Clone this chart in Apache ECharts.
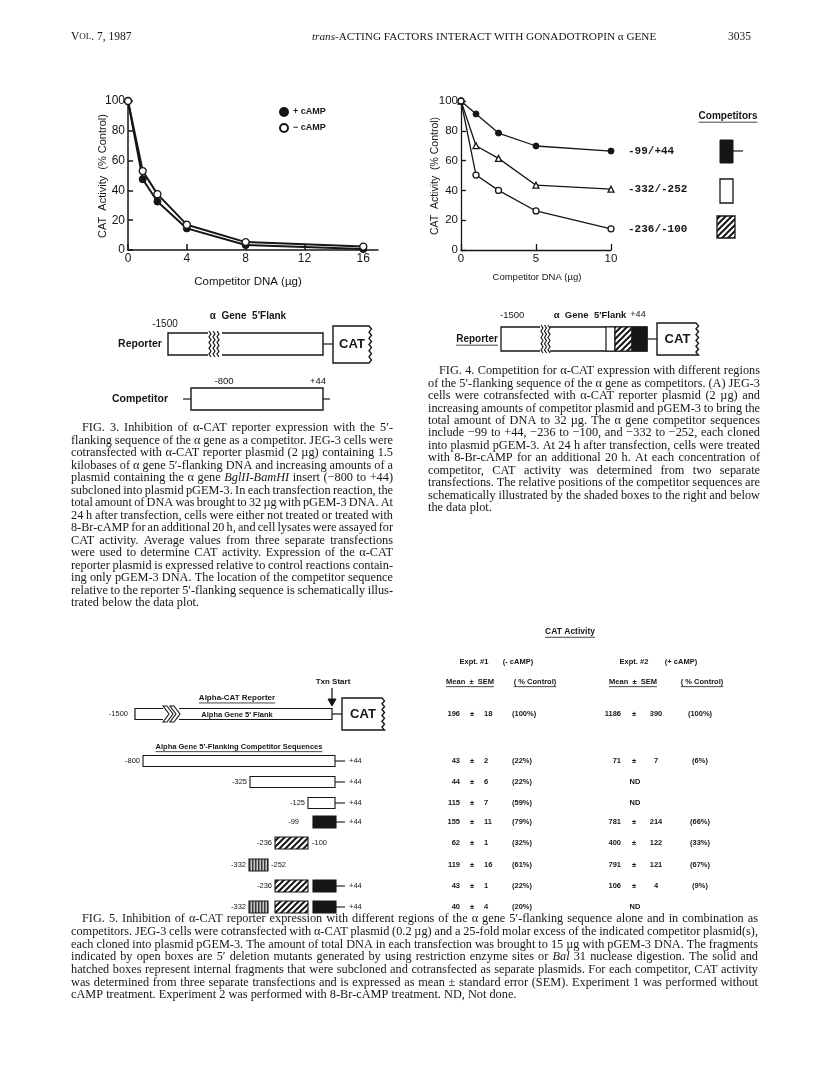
<!DOCTYPE html>
<html>
<head>
<meta charset="utf-8">
<script src="https://cdn.jsdelivr.net/npm/echarts@6.0.0/dist/echarts.min.js"></script>
<style>
  html, body { margin: 0; padding: 0; background: #fff; }
  #chart-container { width: 816px; height: 1081px; }
</style>
</head>
<body>
<div id="chart-container"></div>
<script>
// ---- data ----
// Fig. 3: competitor DNA (ug) vs CAT activity (% control)
var fig3Dna = [0, 1, 2, 4, 8, 16];
var fig3PlusCamp = [100, 47.5, 32.5, 14.5, 3.3, 0.6];
var fig3MinusCamp = [100, 53, 37.5, 17, 5.3, 2.3];
var fig3XTicks = [0, 4, 8, 12, 16];

// Fig. 4: three competitors
var fig4Dna = [0, 1, 2.5, 5, 10];
var fig4Names = ["-99/+44", "-332/-252", "-236/-100"];
var fig4Comp99 = [100, 91.3, 78.5, 69.8, 66.4];
var fig4Comp332 = [100, 70, 61.5, 43.5, 40.8];
var fig4Comp236 = [100, 50.3, 40, 26.2, 14.2];
var fig4XTicks = [0, 5, 10];

// Fig. 5 table (ND = not done)
var exp1Mean = ["196", "43", "44", "115", "155", "62", "119", "43", "40"];
var exp1Sem = ["18", "2", "6", "7", "11", "1", "16", "1", "4"];
var exp1Pct = ["(100%)", "(22%)", "(22%)", "(59%)", "(79%)", "(32%)", "(61%)", "(22%)", "(20%)"];
var exp2Mean = ["1186", "71", "ND", "ND", "781", "400", "791", "106", "ND"];
var exp2Sem = ["390", "7", "", "", "214", "122", "121", "4", ""];
var exp2Pct = ["(100%)", "(6%)", "", "", "(66%)", "(33%)", "(67%)", "(9%)", ""];

// captions; _word_ is set in italics
var fig3Caption = [
  "FIG. 3. Inhibition of \u03b1-CAT reporter expression with the 5\u2032-",
  "flanking sequence of the \u03b1 gene as a competitor. JEG-3 cells were",
  "cotransfected with \u03b1-CAT reporter plasmid (2 \u00b5g) containing 1.5",
  "kilobases of \u03b1 gene 5\u2032-flanking DNA and increasing amounts of a",
  "plasmid containing the \u03b1 gene _BglII-BamHI_ insert (\u2212800 to +44)",
  "subcloned into plasmid pGEM-3. In each transfection reaction, the",
  "total amount of DNA was brought to 32 \u00b5g with pGEM-3 DNA. At",
  "24 h after transfection, cells were either not treated or treated with",
  "8-Br-cAMP for an additional 20 h, and cell lysates were assayed for",
  "CAT activity. Average values from three separate transfections",
  "were used to determine CAT activity. Expression of the \u03b1-CAT",
  "reporter plasmid is expressed relative to control reactions contain-",
  "ing only pGEM-3 DNA. The location of the competitor sequence",
  "relative to the reporter 5\u2032-flanking sequence is schematically illus-",
  "trated below the data plot."
];
var fig4Caption = [
  "FIG. 4. Competition for \u03b1-CAT expression with different regions",
  "of the 5\u2032-flanking sequence of the \u03b1 gene as competitors. (A) JEG-3",
  "cells were cotransfected with \u03b1-CAT reporter plasmid (2 \u00b5g) and",
  "increasing amounts of competitor plasmid and pGEM-3 to bring the",
  "total amount of DNA to 32 \u00b5g. The \u03b1 gene competitor sequences",
  "include \u221299 to +44, \u2212236 to \u2212100, and \u2212332 to \u2212252, each cloned",
  "into plasmid pGEM-3. At 24 h after transfection, cells were treated",
  "with 8-Br-cAMP for an additional 20 h. At each concentration of",
  "competitor, CAT activity was determined from two separate",
  "transfections. The relative positions of the competitor sequences are",
  "schematically illustrated by the shaded boxes to the right and below",
  "the data plot."
];
var fig5Caption = [
  "FIG. 5. Inhibition of \u03b1-CAT reporter expression with different regions of the \u03b1 gene 5\u2032-flanking sequence alone and in combination as",
  "competitors. JEG-3 cells were cotransfected with \u03b1-CAT plasmid (0.2 \u00b5g) and a 25-fold molar excess of the indicated competitor plasmid(s),",
  "each cloned into plasmid pGEM-3. The amount of total DNA in each transfection was brought to 15 \u00b5g with pGEM-3 DNA. The fragments",
  "indicated by open boxes are 5\u2032 deletion mutants generated by using restriction enzyme sites or _Bal_ 31 nuclease digestion. The solid and",
  "hatched boxes represent internal fragments that were subcloned and cotransfected as separate plasmids. For each competitor, CAT activity",
  "was determined from three separate transfections and is expressed as mean \u00b1 standard error (SEM). Experiment 1 was performed without",
  "cAMP treatment. Experiment 2 was performed with 8-Br-cAMP treatment. ND, Not done."
];

var INK = "#161616";
var SANS = '"Liberation Sans", Arial, sans-serif';
var SERIF = '"Liberation Serif", "Times New Roman", serif';

var measureCtx = document.createElement("canvas").getContext("2d");
function measure(str, font) {
  measureCtx.font = font;
  return measureCtx.measureText(str).width;
}

function makePattern(kind) {
  var c = document.createElement("canvas");
  var g = c.getContext("2d");
  if (kind === "hatch") {
    c.width = 6; c.height = 6;
    g.fillStyle = "#fff"; g.fillRect(0, 0, 6, 6);
    g.strokeStyle = INK; g.lineWidth = 2;
    g.beginPath();
    g.moveTo(0, 6); g.lineTo(6, 0);
    g.moveTo(-3, 3); g.lineTo(3, -3);
    g.moveTo(3, 9); g.lineTo(9, 3);
    g.stroke();
  } else {
    c.width = 3; c.height = 3;
    g.fillStyle = "#c8c8c8"; g.fillRect(0, 0, 3, 3);
    g.fillStyle = "#3a3a3a"; g.fillRect(0, 0, 1.5, 3);
  }
  return { image: c, repeat: "repeat" };
}
var HATCH = makePattern("hatch");
var STRIPE = makePattern("stripe");

var G = [];
function txt(x, y, s, o) {
  o = o || {};
  G.push({
    type: "text", x: x, y: y, scaleX: o.sx || 1, rotation: o.rot || 0,
    style: {
      text: s, fill: o.color || INK, fontSize: o.size || 8,
      fontFamily: o.family || SANS, fontWeight: o.weight || "normal",
      fontStyle: o.italic ? "italic" : "normal",
      textAlign: o.align || "left", textVerticalAlign: "middle",
      rich: o.rich
    }
  });
}
function seg(x1, y1, x2, y2, w) {
  G.push({ type: "line", shape: { x1: x1, y1: y1, x2: x2, y2: y2 }, style: { stroke: INK, lineWidth: w || 1 } });
}
function box(x, y, w, h, fill, lw) {
  G.push({ type: "rect", shape: { x: x, y: y, width: w, height: h }, style: { fill: fill, stroke: INK, lineWidth: lw || 1 } });
}
function poly(points, fill, lw) {
  G.push({ type: "polygon", shape: { points: points }, style: { fill: fill, stroke: INK, lineWidth: lw || 1 } });
}
function pline(points, lw) {
  G.push({ type: "polyline", shape: { points: points }, style: { fill: null, stroke: INK, lineWidth: lw || 1 } });
}
function underlined(cx, y, s, size, weight) {
  var font = (weight || "bold") + " " + size + "px " + SANS;
  var w = measure(s, font);
  txt(cx, y, s, { size: size, weight: weight || "bold", align: "center" });
  seg(cx - w / 2, y + size * 0.62, cx + w / 2, y + size * 0.62, 0.8);
}
function zigzag(x, y0, y1, amp, step) {
  var pts = [];
  var n = Math.round((y1 - y0) / step);
  for (var i = 0; i <= n; i++) pts.push([x + (i % 2 ? amp : 0), y0 + (y1 - y0) * i / n]);
  return pts;
}
function catBox(x0, y0, x1, y1, fontSize) {
  var pts = [[x0, y0], [x1, y0]].concat(zigzag(x1, y0, y1, 2.5, 3)).concat([[x0, y1]]);
  poly(pts, "#fff", 1.4);
  txt((x0 + x1) / 2 + 1, (y0 + y1) / 2, "CAT", { size: fontSize, weight: "bold", align: "center" });
}
// justified paragraph: words are placed one by one with stretched gaps
function paragraph(lines, x0, y0, width, dy, indent, size) {
  var upright = size + "px " + SERIF;
  var slanted = "italic " + size + "px " + SERIF;
  var space = measure(" ", upright);
  var minGap = space * 0.7;
  lines.forEach(function (line, i) {
    var words = line.split(" ").map(function (w) {
      var it = /^_.*_$/.test(w);
      var t = it ? w.slice(1, -1) : w;
      return { t: t, it: it, w: measure(t, it ? slanted : upright) };
    });
    var left = x0 + (i === 0 ? indent : 0);
    var avail = width - (i === 0 ? indent : 0);
    var sum = words.reduce(function (a, w) { return a + w.w; }, 0);
    var last = i === lines.length - 1;
    var gap = last ? space : (avail - sum) / Math.max(1, words.length - 1);
    var sx = 1;
    if (gap < minGap) { sx = avail / (sum + minGap * (words.length - 1)); gap = minGap * sx; }
    var x = left;
    words.forEach(function (w) {
      txt(x, y0 + i * dy, w.t, { size: size, family: SERIF, italic: w.it, sx: sx });
      x += w.w * sx + gap;
    });
  });
}

// ---- page header ----
txt(71, 37, "V{s|OL}. 7, 1987", { size: 11.5, family: SERIF, rich: { s: { fontSize: 9, fontFamily: SERIF, fill: INK } } });
(function () {
  var s = "trans-ACTING FACTORS INTERACT WITH GONADOTROPIN \u03b1 GENE";
  var sx = 343 / measure(s, "11px " + SERIF);
  txt(312, 37, "{i|trans}-ACTING FACTORS INTERACT WITH GONADOTROPIN \u03b1 GENE", {
    size: 11, family: SERIF, sx: sx,
    rich: { i: { fontStyle: "italic", fontSize: 11, fontFamily: SERIF, fill: INK } }
  });
})();
txt(728, 37, "3035", { size: 11.5, family: SERIF });

// ---- Fig. 3 axis titles ----
txt(103, 176, "CAT  Activity  (% Control)", { size: 11, rot: Math.PI / 2, align: "center" });
txt(248, 282, "Competitor DNA (\u00b5g)", { size: 11.5, align: "center" });

// ---- Fig. 3 schematic ----
txt(165, 324, "-1500", { size: 10, align: "center" });
txt(248, 316, "\u03b1  Gene  5\u2032Flank", { size: 10, weight: "bold", align: "center" });
txt(140, 344, "Reporter", { size: 10.5, weight: "bold", align: "center" });
box(168, 333, 155, 22, "#fff", 1.4);
G.push({ type: "rect", shape: { x: 208, y: 330, width: 14, height: 28 }, style: { fill: "#fff", stroke: null } });
pline(zigzag(209, 331, 357, 2, 3), 1.2);
pline(zigzag(213, 331, 357, 2, 3), 1.2);
pline(zigzag(217, 331, 357, 2, 3), 1.2);
seg(323, 344, 333, 344, 1.2);
catBox(333, 326, 369, 363, 13);
txt(224, 381, "-800", { size: 9.5, align: "center" });
txt(318, 381, "+44", { size: 9.5, align: "center" });
txt(140, 399, "Competitor", { size: 10.5, weight: "bold", align: "center" });
seg(183, 399, 191, 399, 1.2);
box(191, 388, 132, 22, "#fff", 1.4);
seg(323, 399, 330, 399, 1.2);

paragraph(fig3Caption, 71, 428, 322, 12.5, 11, 12.3);

// ---- Fig. 4 axis titles and competitor key ----
txt(435, 176, "CAT  Activity  (% Control)", { size: 10.5, rot: Math.PI / 2, align: "center" });
txt(537, 277, "Competitor DNA (\u00b5g)", { size: 9.5, align: "center" });
underlined(728, 116, "Competitors", 10);
box(720, 140, 13, 23, INK, 1);
seg(733, 151, 743, 151, 1.2);
box(720, 179, 13, 24, "#fff", 1.3);
box(717, 216, 18, 22, HATCH, 1.3);

// ---- Fig. 4 schematic ----
txt(500, 315, "-1500", { size: 9.5 });
txt(590, 315, "\u03b1  Gene  5\u2032Flank", { size: 9.5, weight: "bold", align: "center" });
txt(638, 315, "+44", { size: 9, align: "center" });
underlined(477, 339, "Reporter", 10);
box(501, 327, 146, 24, "#fff", 1.3);
G.push({ type: "rect", shape: { x: 540, y: 324, width: 10, height: 30 }, style: { fill: "#fff", stroke: null } });
pline(zigzag(541, 325, 353, 2, 3), 1.1);
pline(zigzag(544.5, 325, 353, 2, 3), 1.1);
pline(zigzag(548, 325, 353, 2, 3), 1.1);
box(606, 327, 9, 24, "#fff", 1.2);
box(615, 327, 17, 24, HATCH, 1.2);
box(632, 327, 15, 24, INK, 1.2);
seg(647, 339, 657, 339, 1.2);
catBox(657, 323, 696, 355, 13);

paragraph(fig4Caption, 428, 371, 332, 12.45, 11, 12.3);

// ---- Fig. 5 schematic ----
var rowY = [714, 761, 782, 803, 822, 843, 865, 886, 907];
txt(333, 682, "Txn Start", { size: 8, weight: "bold", align: "center" });
seg(332, 688, 332, 700, 1.3);
poly([[328, 699], [336, 699], [332, 706]], INK, 1);
underlined(237, 698, "Alpha-CAT Reporter", 8);
txt(128, rowY[0], "-1500", { size: 7.5, align: "right" });
box(135, rowY[0] - 5.5, 197, 11, "#fff", 1.2);
G.push({ type: "rect", shape: { x: 163, y: rowY[0] - 8, width: 16, height: 16 }, style: { fill: "#fff", stroke: null } });
[163, 170].forEach(function (x) {
  var t = rowY[0] - 8, b = rowY[0] + 8, m = rowY[0];
  poly([[x, t], [x + 4, t], [x + 10, m], [x + 4, b], [x, b], [x + 6, m]], "#fff", 1.1);
});
txt(237, rowY[0] + 1, "Alpha Gene 5\u2032 Flank", { size: 7.5, weight: "bold", align: "center" });
seg(332, rowY[0], 342, rowY[0], 1.2);
catBox(342, 698, 382, 730, 13);
underlined(239, 747, "Alpha Gene 5\u2032-Flanking Competitor Sequences", 7.5);

var compRows = [
  { left: "-800", lx: 140, parts: [["open", 143, 335]], tail: true },
  { left: "-325", lx: 247, parts: [["open", 250, 335]], tail: true },
  { left: "-125", lx: 305, parts: [["open", 308, 335]], tail: true },
  { left: "-99", lx: 299, parts: [["solid", 313, 336]], tail: true },
  { left: "-236", lx: 272, parts: [["hatch", 275, 308]], right: "-100", rx: 312 },
  { left: "-332", lx: 246, parts: [["stripe", 249, 268]], right: "-252", rx: 271 },
  { left: "-236", lx: 272, parts: [["hatch", 275, 308], ["solid", 313, 336]], tail: true },
  { left: "-332", lx: 246, parts: [["stripe", 249, 268], ["hatch", 275, 308], ["solid", 313, 336]], tail: true }
];
compRows.forEach(function (r, i) {
  var y = rowY[i + 1];
  txt(r.lx, y, r.left, { size: 7.5, align: "right" });
  r.parts.forEach(function (p) {
    var fill = p[0] === "open" ? "#fff" : p[0] === "solid" ? INK : p[0] === "hatch" ? HATCH : STRIPE;
    var h = p[0] === "open" ? 11 : 12;
    box(p[1], y - h / 2, p[2] - p[1], h, fill, 1.1);
  });
  if (r.tail) {
    var end = r.parts[r.parts.length - 1][2];
    seg(end, y, 345, y, 1.1);
    txt(349, y, "+44", { size: 7.5 });
  }
  if (r.right) txt(r.rx, y, r.right, { size: 7.5 });
});

// ---- Fig. 5 table ----
underlined(570, 632, "CAT Activity", 8.5);
txt(474, 662, "Expt. #1", { size: 7.5, weight: "bold", align: "center" });
txt(518, 662, "(- cAMP)", { size: 7.5, weight: "bold", align: "center" });
txt(634, 662, "Expt. #2", { size: 7.5, weight: "bold", align: "center" });
txt(681, 662, "(+ cAMP)", { size: 7.5, weight: "bold", align: "center" });
underlined(470, 682, "Mean  \u00b1  SEM", 7.5);
underlined(535, 682, "( % Control)", 7.5);
underlined(633, 682, "Mean  \u00b1  SEM", 7.5);
underlined(702, 682, "( % Control)", 7.5);
rowY.forEach(function (y, i) {
  var o = { size: 7.5, weight: "bold" };
  txt(460, y, exp1Mean[i], Object.assign({ align: "right" }, o));
  txt(472, y, "\u00b1", Object.assign({ align: "center" }, o));
  txt(484, y, exp1Sem[i], o);
  txt(512, y, exp1Pct[i], o);
  if (exp2Mean[i] === "ND") {
    txt(635, y, "ND", Object.assign({ align: "center" }, o));
  } else {
    txt(621, y, exp2Mean[i], Object.assign({ align: "right" }, o));
    txt(634, y, "\u00b1", Object.assign({ align: "center" }, o));
    txt(656, y, exp2Sem[i], Object.assign({ align: "center" }, o));
    txt(700, y, exp2Pct[i], Object.assign({ align: "center" }, o));
  }
});

paragraph(fig5Caption, 71, 919, 687, 12.7, 11, 12.3);

// ---- charts ----
function pairs(xs, ys) {
  return xs.map(function (x, i) { return [x, ys[i]]; });
}
function valueAxis(grid, max, ticks, size, lw) {
  return {
    gridIndex: grid, type: "value", min: 0, max: max,
    axisLine: { lineStyle: { color: INK, width: lw } },
    axisTick: { inside: true, length: 6, customValues: ticks, lineStyle: { color: INK, width: lw } },
    axisLabel: { customValues: ticks, color: INK, fontSize: size, fontFamily: SANS, margin: 3 },
    splitLine: { show: false }
  };
}
function yAxis(grid, size, lw) {
  return {
    gridIndex: grid, type: "value", min: 0, max: 100, interval: 20,
    axisLine: { show: true, lineStyle: { color: INK, width: lw } },
    axisTick: { show: true, inside: true, length: 5, lineStyle: { color: INK, width: lw } },
    axisLabel: { color: INK, fontSize: size, fontFamily: SANS, margin: 3 },
    splitLine: { show: false }
  };
}
var openDot = { color: "#fff", borderColor: INK, borderWidth: 1.3 };
var solidDot = { color: INK, borderColor: INK, borderWidth: 1 };
var endLabel = {
  show: true, formatter: "{a}", distance: 17,
  fontFamily: '"Liberation Mono", monospace', fontWeight: "bold", fontSize: 11, color: INK
};

var option = {
  backgroundColor: "#fff",
  animation: false,
  grid: [
    { left: 128, top: 101, width: 250, height: 149 },
    { left: 461, top: 101, width: 150, height: 149 }
  ],
  xAxis: [valueAxis(0, 17, fig3XTicks, 12, 1.5), valueAxis(1, 10, fig4XTicks, 11.5, 1.3)],
  yAxis: [yAxis(0, 12, 1.5), yAxis(1, 11.5, 1.3)],
  legend: {
    data: ["+ cAMP", "\u2212 cAMP"], orient: "vertical", left: 274, top: 102,
    itemWidth: 8, itemHeight: 8, itemGap: 6, icon: "circle",
    textStyle: { fontSize: 9, fontWeight: "bold", color: INK, fontFamily: SANS }
  },
  graphic: { elements: G },
  series: [
    {
      name: "+ cAMP", type: "line", xAxisIndex: 0, yAxisIndex: 0,
      data: pairs(fig3Dna, fig3PlusCamp), symbol: "circle", symbolSize: 7,
      lineStyle: { color: INK, width: 2 }, itemStyle: solidDot
    },
    {
      name: "\u2212 cAMP", type: "line", xAxisIndex: 0, yAxisIndex: 0,
      data: pairs(fig3Dna, fig3MinusCamp), symbol: "circle", symbolSize: 7,
      lineStyle: { color: INK, width: 2 }, itemStyle: openDot, z: 3
    },
    {
      name: fig4Names[0], type: "line", xAxisIndex: 1, yAxisIndex: 1,
      data: pairs(fig4Dna, fig4Comp99), symbol: "circle", symbolSize: 6,
      lineStyle: { color: INK, width: 1.3 }, itemStyle: solidDot, endLabel: endLabel
    },
    {
      name: fig4Names[1], type: "line", xAxisIndex: 1, yAxisIndex: 1,
      data: pairs(fig4Dna, fig4Comp332), symbol: "triangle", symbolSize: 6,
      lineStyle: { color: INK, width: 1.3 }, itemStyle: openDot, endLabel: endLabel
    },
    {
      name: fig4Names[2], type: "line", xAxisIndex: 1, yAxisIndex: 1,
      data: pairs(fig4Dna, fig4Comp236), symbol: "circle", symbolSize: 6,
      lineStyle: { color: INK, width: 1.3 }, itemStyle: openDot, endLabel: endLabel
    }
  ]
};

var dom = document.getElementById("chart-container");
var myChart = echarts.init(dom, null, { renderer: "canvas" });
myChart.setOption(option);
window.addEventListener("resize", myChart.resize);
</script>
</body>
</html>
